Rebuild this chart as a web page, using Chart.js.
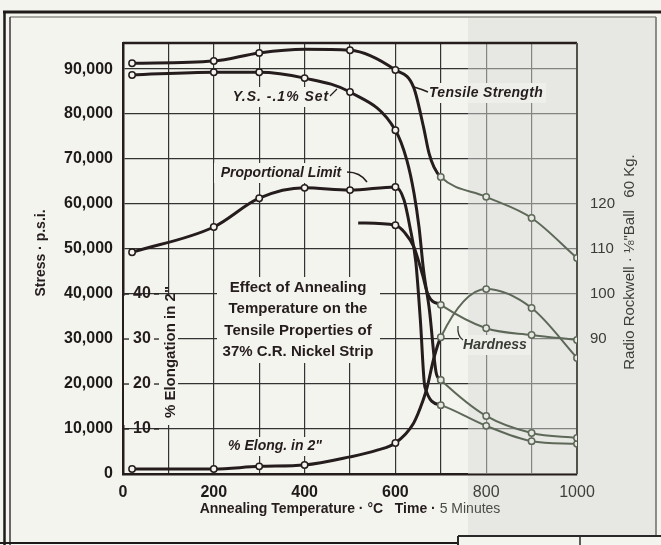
<!DOCTYPE html>
<html>
<head>
<meta charset="utf-8">
<script src="https://cdn.jsdelivr.net/npm/chart.js@4.4.1/dist/chart.umd.min.js"></script>
<style>
html, body { margin: 0; padding: 0; background: #f4f4ef; }
#wrap { width: 661px; height: 545px; }
</style>
</head>
<body>
<div id="wrap"><canvas id="chart" width="661" height="545"></canvas></div>
<script>
const tensileTemp = [20, 200, 300, 500, 600, 700, 800, 900, 1000];
const tensilePsi  = [91300, 91800, 93600, 94200, 89800, 66000, 61600, 56900, 48000];
const yieldTemp   = [20, 200, 300, 400, 500, 600, 700, 800, 900, 1000];
const yieldPsi    = [88700, 89300, 89300, 88000, 84900, 76400, 20900, 12900, 9100, 8000];
const propTemp    = [20, 200, 300, 400, 500, 600, 700, 800, 900, 1000];
const propPsi     = [49300, 54900, 61300, 63600, 63100, 63800, 15300, 10700, 7300, 6700];
const hardTemp    = [600, 700, 800, 900, 1000];
const hardness    = [115.3, 97.6, 92.4, 90.9, 89.8];
const elongTemp   = [20, 200, 300, 400, 600, 700, 800, 900, 1000];
const elongation  = [1.1, 1.1, 1.7, 2.0, 6.9, 30.4, 41.1, 36.9, 25.8];

// extra points (no circles)
const tensileTraceTemp = [400, 640, 662, 674, 685];
const tensileTracePsi  = [94400, 86000, 77100, 71300, 68200];
const yieldTraceTemp   = [625, 641, 652, 662, 675, 690];
const yieldTracePsi    = [69800, 62400, 54900, 45300, 36400, 22400];
const propTraceTemp    = [619, 632, 645, 655, 665];
const propTracePsi     = [60900, 54900, 47100, 34200, 19300];
const hardTraceTemp    = [518, 621, 641, 660, 672];
const hardTrace        = [115.8, 113.6, 110.4, 104.2, 99.8];
const elongTraceTemp   = [500, 560, 640, 661, 670, 684];
const elongTrace       = [3.8, 5.3, 11.3, 16.4, 19.3, 25.5];

const stressTicks   = [0, 10000, 20000, 30000, 40000, 50000, 60000, 70000, 80000, 90000];
const elongTicks    = [10, 20, 30, 40];
const hardnessTicks = [90, 100, 110, 120];

const FONT = "'Liberation Sans', Arial, sans-serif";
const DARK = '#251c1d';
const GREEN = '#5e6858';
const PAPER = '#f4f4ef';
const SHADE = '#e7e8e4';

function curve(t, v, tt, tv) {
    const pts = t.map((x, i) => ({ x: x, y: v[i] }));
    tt.forEach((x, i) => pts.push({ x: x, y: tv[i] }));
    return pts.sort((a, b) => a.x - b.x);
}

function makeSet(label, data, marked, axis) {
    const late = x => x >= 700;
    return {
        label: label,
        data: data,
        yAxisID: axis,
        cubicInterpolationMode: 'monotone',
        borderColor: DARK,
        borderWidth: 3,
        pointRadius: ctx => marked.includes(ctx.raw.x) ? 3.2 : 0,
        pointBorderWidth: 1.5,
        pointBackgroundColor: ctx => late(ctx.raw.x) ? SHADE : PAPER,
        pointBorderColor: ctx => late(ctx.raw.x) ? GREEN : DARK,
        segment: {
            borderColor: ctx => late(ctx.p0.parsed.x) ? GREEN : DARK,
            borderWidth: ctx => late(ctx.p0.parsed.x) ? 2 : 3
        }
    };
}

// paper-coloured patches that break the grid behind the lettering
const masks = [
    [124, 296, 54, 129],   // elongation scale
    [217, 277, 163, 86],   // title block
    [229, 87, 103, 20],    // Y.S. label
    [424, 83, 122, 20],    // Tensile label
    [214, 163, 134, 20],   // Proportional label
    [459, 335, 72, 20],    // Hardness label
    [219, 437, 113, 19]    // Elong label
];

function label(c, text, x, y, opts) {
    c.save();
    c.font = opts.font;
    c.fillStyle = opts.color || DARK;
    c.textAlign = opts.align || 'center';
    c.textBaseline = 'middle';
    if (opts.spacing) c.letterSpacing = opts.spacing;
    if (opts.rotate) {
        c.translate(x, y);
        c.rotate(opts.rotate);
        c.fillText(text, 0, 0);
    } else {
        c.fillText(text, x, y);
    }
    c.restore();
}

function line(c, pts, width, color) {
    c.save();
    c.strokeStyle = color;
    c.lineWidth = width;
    c.beginPath();
    c.moveTo(pts[0][0], pts[0][1]);
    if (pts.length === 3) c.quadraticCurveTo(pts[1][0], pts[1][1], pts[2][0], pts[2][1]);
    else c.lineTo(pts[1][0], pts[1][1]);
    c.stroke();
    c.restore();
}

const paperPlugin = {
    id: 'paper',
    beforeDraw(chart) {
        const c = chart.ctx;
        c.save();
        c.fillStyle = PAPER;
        c.fillRect(0, 0, chart.width, chart.height);
        // grey tint of the scan on the right side
        c.fillStyle = SHADE;
        c.fillRect(468, 18, 188, 518);
        c.restore();
    },
    beforeDatasetsDraw(chart) {
        const c = chart.ctx;
        const a = chart.chartArea;
        c.save();
        c.fillStyle = PAPER;
        masks.forEach(m => c.fillRect(m[0], m[1], m[2], m[3]));
        // grid looks paler in the tinted part
        c.fillStyle = 'rgba(231,232,228,0.45)';
        c.fillRect(468, a.top, a.right - 468, a.bottom - a.top);
        c.strokeStyle = DARK;
        c.lineWidth = 2.5;
        c.beginPath();
        c.moveTo(a.left, a.top);
        c.lineTo(a.right, a.top);
        c.stroke();
        c.strokeStyle = '#4f5349';
        c.lineWidth = 2;
        c.beginPath();
        c.moveTo(a.right, a.top);
        c.lineTo(a.right, a.bottom);
        c.stroke();
        c.restore();
    },
    afterDatasetsDraw(chart) {
        const c = chart.ctx;
        const yE = chart.scales.yE;
        const bold = 'bold 16px ' + FONT;
        const it = 'italic bold 14px ' + FONT;

        // inner elongation scale
        elongTicks.forEach(v => {
            const y = yE.getPixelForValue(v);
            label(c, String(v), 142, y, { font: bold });
            line(c, [[124, y], [129, y]], 1.3, DARK);
            line(c, [[154, y], [159, y]], 1.3, DARK);
        });
        label(c, '% Elongation in 2"', 171, 352, { font: 'bold 15px ' + FONT, rotate: -Math.PI / 2 });

        // axis titles
        label(c, 'Stress · p.s.i.', 41, 253, { font: 'bold 14px ' + FONT, rotate: -Math.PI / 2 });
        label(c, 'Radio Rockwell · \u215B"Ball   60 Kg.', 630, 262, { font: '15px ' + FONT, color: '#3c3e39', rotate: -Math.PI / 2 });
        c.save();
        c.font = 'bold 14px ' + FONT;
        const left = 'Annealing Temperature · °C   Time · ';
        const right = '5 Minutes';
        const w1 = c.measureText(left).width;
        c.font = '14px ' + FONT;
        const w2 = c.measureText(right).width;
        c.restore();
        const x0 = 350 - (w1 + w2) / 2;
        label(c, left, x0, 509, { font: 'bold 14px ' + FONT, align: 'left' });
        label(c, right, x0 + w1, 509, { font: '14px ' + FONT, align: 'left', color: '#4a4d45' });

        // title block
        const title = ['Effect of Annealing', 'Temperature on the', 'Tensile Properties of', '37% C.R. Nickel Strip'];
        title.forEach((t, i) => label(c, t, 298, 288 + i * 21.3, { font: 'bold 15px ' + FONT }));

        // curve names and pointers
        label(c, 'Y.S. -.1% Set', 281, 97, { font: it, spacing: '1px' });
        line(c, [[330, 96], [337, 89]], 1.3, DARK);
        label(c, 'Tensile Strength', 486, 93, { font: it, spacing: '0.3px' });
        line(c, [[428, 92], [421, 89], [414, 87]], 1.5, DARK);
        label(c, 'Proportional Limit', 281, 173, { font: it });
        line(c, [[347, 172], [360, 172], [367, 182]], 1.5, DARK);
        label(c, 'Hardness', 495, 345, { font: it, color: '#3a3d36' });
        line(c, [[463, 340], [457, 336], [458, 326]], 1.3, '#3a3d36');
        label(c, '% Elong. in 2"', 275, 446, { font: it });

        // frame of the figure
        line(c, [[3, 12], [661, 12]], 3, '#1e1a1a');
        line(c, [[10, 17], [656, 17]], 1, '#5a5a55');
        line(c, [[4.5, 12], [4.5, 545]], 2.5, '#1e1a1a');
        line(c, [[10, 17], [10, 545]], 1.5, '#3a3636');
        line(c, [[656, 17], [656, 536]], 1.5, '#6a6d66');
        line(c, [[0, 543], [458, 543]], 2, '#1e1a1a');
        line(c, [[458, 536], [661, 536]], 2, '#2a2828');
        line(c, [[458, 536], [458, 545]], 2, '#2a2828');
        line(c, [[580, 536], [580, 545]], 1.5, '#2a2828');
    }
};

new Chart(document.getElementById('chart'), {
    type: 'line',
    data: {
        datasets: [
            makeSet('Tensile Strength', curve(tensileTemp, tensilePsi, tensileTraceTemp, tensileTracePsi), tensileTemp, 'y'),
            makeSet('Y.S. -.1% Set', curve(yieldTemp, yieldPsi, yieldTraceTemp, yieldTracePsi), yieldTemp, 'y'),
            makeSet('Proportional Limit', curve(propTemp, propPsi, propTraceTemp, propTracePsi), propTemp, 'y'),
            makeSet('Hardness', curve(hardTemp, hardness, hardTraceTemp, hardTrace), hardTemp, 'yH'),
            makeSet('% Elong. in 2"', curve(elongTemp, elongation, elongTraceTemp, elongTrace), elongTemp, 'yE')
        ]
    },
    options: {
        responsive: false,
        animation: false,
        layout: { padding: { top: 43, left: 0, right: 0, bottom: 0 } },
        plugins: { legend: { display: false }, tooltip: { enabled: false } },
        scales: {
            x: {
                type: 'linear',
                min: 0,
                max: 1000,
                ticks: {
                    stepSize: 100,
                    autoSkip: false,
                    maxRotation: 0,
                    padding: 9,
                    callback: v => v % 200 === 0 ? String(v) : '',
                    color: ctx => ctx.tick && ctx.tick.value >= 800 ? '#3e403a' : '#1f1a1a',
                    font: ctx => ({ family: FONT, size: 16, weight: ctx.tick && ctx.tick.value >= 800 ? 'normal' : 'bold' })
                },
                grid: { color: '#333', lineWidth: 1.2, drawTicks: false },
                border: { color: DARK, width: 2.5 },
                afterFit: s => { s.height = 71; }
            },
            y: {
                position: 'left',
                min: 0,
                max: 95800,
                ticks: {
                    padding: 10,
                    color: '#1f1a1a',
                    font: { family: FONT, size: 16, weight: 'bold' },
                    callback: v => v.toLocaleString('en-US')
                },
                afterBuildTicks: s => { s.ticks = stressTicks.map(v => ({ value: v })); },
                grid: { color: '#333', lineWidth: 1.2, drawTicks: false },
                border: { color: DARK, width: 2.5 },
                afterFit: s => { s.width = 123; }
            },
            yE: { display: false, min: 0, max: 95.8 },
            yH: {
                position: 'right',
                min: 60,
                max: 155.8,
                ticks: { padding: 13, color: '#3a3c37', font: { family: FONT, size: 15 } },
                afterBuildTicks: s => { s.ticks = hardnessTicks.map(v => ({ value: v })); },
                grid: { display: false, drawTicks: false },
                border: { display: false },
                afterFit: s => { s.width = 84; }
            }
        }
    },
    plugins: [paperPlugin]
});
</script>
</body>
</html>
